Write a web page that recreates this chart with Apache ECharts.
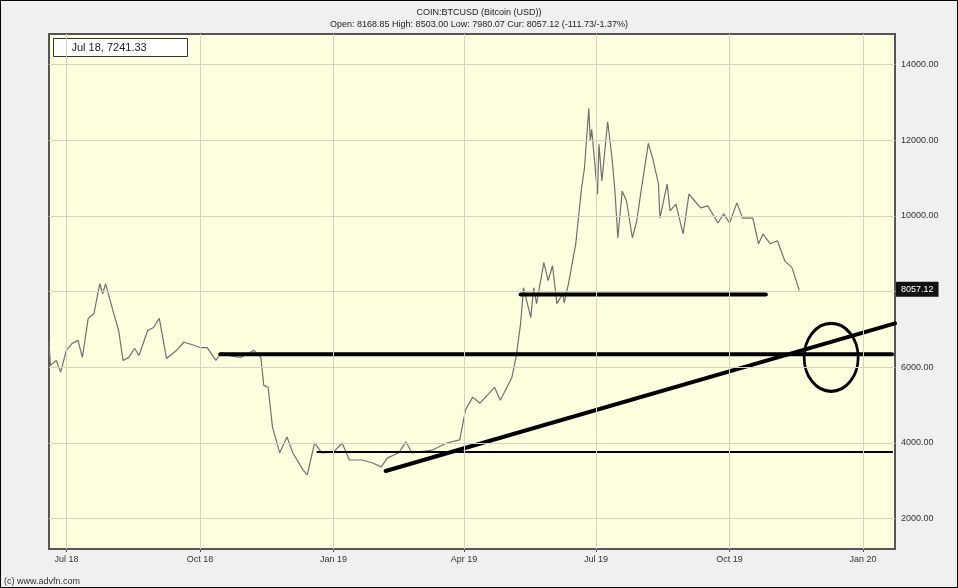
<!DOCTYPE html>
<html lang="en">
<head>
    <meta charset="UTF-8">
    <title>COIN:BTCUSD</title>
    <script src="https://cdn.jsdelivr.net/npm/echarts@6/dist/echarts.min.js"></script>
    <style>
        html, body { margin: 0; padding: 0; background: #f0f0f0; }
        #chart { width: 958px; height: 588px; box-sizing: border-box; border: 1px solid #000; }
    </style>
</head>
<body>
<div id="chart"></div>
<script type="text/javascript">
    // price
    var priceData = [
        ['2018-06-19', 6660], ['2018-06-20', 6050], ['2018-06-24', 6180], ['2018-06-27', 5870],
        ['2018-07-01', 6450], ['2018-07-05', 6630], ['2018-07-09', 6710], ['2018-07-12', 6260],
        ['2018-07-16', 7290], ['2018-07-20', 7420], ['2018-07-24', 8210], ['2018-07-26', 7940],
        ['2018-07-28', 8210], ['2018-08-02', 7500], ['2018-08-06', 6970], ['2018-08-09', 6180],
        ['2018-08-13', 6260], ['2018-08-17', 6500], ['2018-08-20', 6310], ['2018-08-26', 6970],
        ['2018-08-30', 7050], ['2018-09-03', 7290], ['2018-09-08', 6230], ['2018-09-15', 6450],
        ['2018-09-20', 6660], ['2018-09-27', 6580], ['2018-10-01', 6520], ['2018-10-06', 6520],
        ['2018-10-12', 6180], ['2018-10-16', 6390], ['2018-10-22', 6300], ['2018-10-29', 6260],
        ['2018-11-03', 6350], ['2018-11-07', 6450], ['2018-11-12', 6260], ['2018-11-14', 5520],
        ['2018-11-17', 5470], ['2018-11-20', 4420], ['2018-11-25', 3740], ['2018-11-30', 4160],
        ['2018-12-04', 3740], ['2018-12-11', 3290], ['2018-12-14', 3160], ['2018-12-19', 4000],
        ['2018-12-24', 3740], ['2019-01-01', 3760], ['2019-01-07', 4000], ['2019-01-12', 3550],
        ['2019-01-21', 3550], ['2019-01-28', 3470], ['2019-02-03', 3370], ['2019-02-07', 3600],
        ['2019-02-15', 3740], ['2019-02-20', 4030], ['2019-02-24', 3740], ['2019-03-10', 3810],
        ['2019-03-20', 4000], ['2019-03-29', 4080], ['2019-04-02', 4870], ['2019-04-07', 5210],
        ['2019-04-12', 5050], ['2019-04-22', 5470], ['2019-04-26', 5130], ['2019-05-04', 5730],
        ['2019-05-07', 6300], ['2019-05-10', 7150], ['2019-05-12', 8100], ['2019-05-17', 7310],
        ['2019-05-19', 8100], ['2019-05-21', 7680], ['2019-05-26', 8760], ['2019-05-29', 8290],
        ['2019-06-01', 8680], ['2019-06-04', 7680], ['2019-06-08', 7940], ['2019-06-09', 7700],
        ['2019-06-12', 8210], ['2019-06-17', 9260], ['2019-06-21', 10730], ['2019-06-23', 11260],
        ['2019-06-26', 12840], ['2019-06-27', 11970], ['2019-06-28', 12280], ['2019-07-02', 10570],
        ['2019-07-03', 11890], ['2019-07-05', 10920], ['2019-07-09', 12490], ['2019-07-12', 11520],
        ['2019-07-14', 10650], ['2019-07-16', 9420], ['2019-07-19', 10650], ['2019-07-22', 10390],
        ['2019-07-26', 9420], ['2019-07-29', 9860], ['2019-08-01', 10650], ['2019-08-06', 11910],
        ['2019-08-09', 11520], ['2019-08-13', 10840], ['2019-08-14', 9940], ['2019-08-19', 10840],
        ['2019-08-21', 10130], ['2019-08-25', 10310], ['2019-08-30', 9520], ['2019-09-03', 10570],
        ['2019-09-07', 10390], ['2019-09-11', 10210], ['2019-09-16', 10260], ['2019-09-23', 9810],
        ['2019-09-27', 10050], ['2019-10-01', 9810], ['2019-10-06', 10340], ['2019-10-10', 9940],
        ['2019-10-17', 9940], ['2019-10-21', 9260], ['2019-10-24', 9520], ['2019-10-29', 9260],
        ['2019-11-03', 9340], ['2019-11-08', 8810], ['2019-11-13', 8630], ['2019-11-18', 8030]
    ];
    // hand-drawn lines on the chart
    var upperLevel = [['2019-05-10', 7920], ['2019-10-26', 7920]];
    var middleLevel = [['2018-10-15', 6340], ['2020-01-21', 6340]];
    var lowerLevel = [['2018-12-21', 3760], ['2020-01-21', 3760]];
    var trendLine = [['2019-02-06', 3260], ['2020-01-23', 7160]];
    var circleMark = [['2019-12-10', 6260]];

    var yTicks = [2000, 4000, 6000, 8000, 10000, 12000, 14000];
    var xTicks = ['2018-07-01', '2018-10-01', '2019-01-01', '2019-04-01', '2019-07-01', '2019-10-01', '2020-01-01'];
    var xTickLabels = ['Jul 18', 'Oct 18', 'Jan 19', 'Apr 19', 'Jul 19', 'Oct 19', 'Jan 20'];
    var curPrice = 8057.12;

    // value axis works on timestamps
    function ts(d) { return Date.parse(d + 'T00:00:00Z'); }
    function toPts(arr) { return arr.map(function (p) { return [ts(p[0]), p[1]]; }); }
    var xTickTimes = xTicks.map(ts);
    var font = 'Liberation Sans';

    var myChart = echarts.init(document.getElementById('chart'));

    function thick(name, data, width) {
        return {
            name: name, type: 'line', data: toPts(data), symbol: 'none', silent: true,
            lineStyle: { color: '#000', width: width, cap: 'round' }
        };
    }

    var option = {
        animation: false,
        backgroundColor: '#f0f0f0',
        textStyle: { fontFamily: font },
        title: {
            text: 'COIN:BTCUSD (Bitcoin (USD))',
            subtext: 'Open: 8168.85 High: 8503.00 Low: 7980.07 Cur: 8057.12 (-111.73/-1.37%)',
            left: 'center', top: 2, itemGap: 3,
            textStyle: { fontSize: 9, fontWeight: 'normal', color: '#222', fontFamily: font },
            subtextStyle: { fontSize: 9, color: '#222', fontFamily: font }
        },
        grid: {
            left: 48, right: 62, top: 33, bottom: 38,
            show: true, backgroundColor: '#ffffe0', borderColor: '#555', borderWidth: 2
        },
        xAxis: {
            type: 'value',
            min: ts('2018-06-19'), max: ts('2020-01-23'),
            axisLine: { show: false },
            axisTick: { show: true, customValues: xTickTimes, length: 3, lineStyle: { color: '#555' } },
            axisLabel: {
                customValues: xTickTimes, fontSize: 9, color: '#333', margin: 6,
                formatter: function (v) {
                    var i = xTickTimes.indexOf(v);
                    return i >= 0 ? xTickLabels[i] : '';
                }
            },
            splitLine: { show: false }
        },
        yAxis: {
            type: 'value', position: 'right',
            min: 1200, max: 14800,
            axisLine: { show: false },
            axisTick: { show: true, customValues: yTicks, length: 3, inside: true, lineStyle: { color: '#555' } },
            axisLabel: {
                customValues: yTicks, fontSize: 9, color: '#333', margin: 6,
                formatter: function (v) { return v.toFixed(2); }
            },
            splitLine: { show: false }
        },
        series: [
            {
                name: 'grid', type: 'line', data: [], silent: true,
                markLine: {
                    silent: true, symbol: 'none', label: { show: false },
                    lineStyle: { color: '#d4d4c4', width: 1, type: 'solid' },
                    data: yTicks.map(function (v) { return { yAxis: v }; })
                        .concat(xTickTimes.map(function (t) { return { xAxis: t }; }))
                }
            },
            {
                name: 'BTCUSD', type: 'line', data: toPts(priceData), symbol: 'none',
                lineStyle: { color: '#707070', width: 1.2 }
            },
            {
                name: 'cur', type: 'line', data: [], silent: true,
                markLine: {
                    silent: true, symbol: 'none',
                    lineStyle: { color: 'rgba(0,0,0,0)', width: 0 },
                    label: {
                        show: true, position: 'end', distance: 1, formatter: curPrice.toFixed(2),
                        backgroundColor: '#111', color: '#fff', fontSize: 9, padding: [3, 5]
                    },
                    data: [{ yAxis: curPrice }]
                }
            },
            thick('upper', upperLevel, 4),
            thick('middle', middleLevel, 4),
            thick('lower', lowerLevel, 2),
            thick('trend', trendLine, 4),
            {
                name: 'circle', type: 'scatter', data: toPts(circleMark), silent: true,
                symbol: 'circle', symbolSize: [54, 68],
                itemStyle: { color: 'rgba(0,0,0,0)', borderColor: '#000', borderWidth: 3, opacity: 1 }
            }
        ],
        graphic: [
            {
                type: 'group', left: 52, top: 37,
                children: [
                    { type: 'rect', shape: { width: 134, height: 18 },
                      style: { fill: '#fff', stroke: '#333', lineWidth: 1 } },
                    { type: 'text', left: 18, top: 4,
                      style: { text: 'Jul 18, 7241.33', fontSize: 11, fill: '#222', fontFamily: font } }
                ]
            },
            {
                type: 'text', left: 3, bottom: 1,
                style: { text: '(c) www.advfn.com', fontSize: 9, fill: '#333', fontFamily: font }
            }
        ]
    };
    myChart.setOption(option);
</script>
</body>
</html>
